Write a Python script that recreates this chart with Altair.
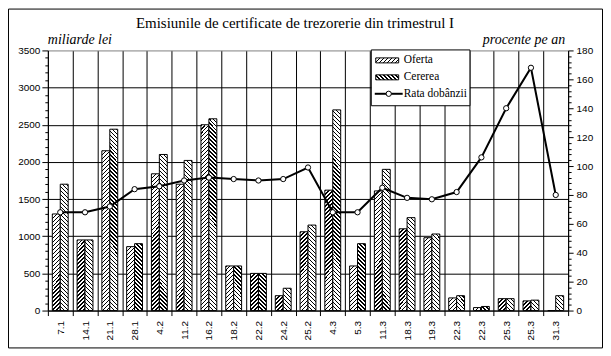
import math
import altair as alt

# ---------------- data ----------------
dates = ["7.1", "14.1", "21.1", "28.1", "4.2", "11.2", "16.2", "18.2", "22.2", "24.2",
         "25.2", "4.3", "5.3", "11.3", "18.3", "19.3", "22.3", "22.3", "25.3", "25.3", "31.3"]
oferta = [1300, 950, 2150, 860, 1840, 1700, 2500, 600, 500, 200,
          1060, 1620, 600, 1610, 1100, 980, 170, 40, 160, 130, 0]
cererea = [1700, 950, 2440, 900, 2100, 2020, 2580, 600, 500, 300,
           1150, 2700, 900, 1900, 1250, 1030, 200, 55, 160, 140, 200]
rata = [68, 68, 72, 84, 86, 90, 92, 91, 90, 91,
        99, 68, 68, 85, 78, 77, 82, 106, 140, 168, 80]

series_names = ["Oferta", "Cererea", "Rata dobânzii"]
title_text = "Emisiunile de certificate de trezorerie din trimestrul I"
left_title = "miliarde lei"
right_title = "procente pe an"

Y_MAX = 3500
R_MAX = 180
PLOT_W, PLOT_H = 522, 261
BAR_W = 8


def hatch(w, h, up, period=4.0, frac=0.33):
    """Diagonal hatch as a striped linear gradient (objectBoundingBox units)."""
    w = max(w, 0.5)
    h = max(h, 0.5)
    total = w + h
    a = total / (w * w + h * h)
    n = int(math.ceil(total / period))
    stops = []
    for k in range(n):
        b0 = round(k * period / total, 5)
        b1 = round(min((k + frac) * period / total, 1.0), 5)
        if b0 >= 1:
            break
        stops += [{"offset": b0, "color": "white"}, {"offset": b0, "color": "black"},
                  {"offset": b1, "color": "black"}, {"offset": b1, "color": "white"}]
    stops.append({"offset": 1, "color": "white"})
    if up:
        g = {"gradient": "linear", "x1": 0, "y1": 0, "x2": a * w, "y2": a * h}
    else:
        g = {"gradient": "linear", "x1": 0, "y1": 1, "x2": a * w, "y2": 1 - a * h}
    g["stops"] = stops
    return g


bar_rows = []
for i in range(len(dates)):
    for name, vals, up in ((series_names[0], oferta, True), (series_names[1], cererea, False)):
        v = vals[i]
        bar_rows.append({"idx": i, "serie": name, "val": v,
                         "grad": hatch(BAR_W, v / Y_MAX * PLOT_H, up)})
line_rows = [{"idx": i, "rata": r} for i, r in enumerate(rata)]

label_expr = "[" + ",".join("'%s'" % d for d in dates) + "][datum.value]"

SANS = "Liberation Sans"
SERIF = "Liberation Serif"

x_scale = alt.Scale(paddingInner=0, paddingOuter=0)
x_axis = alt.Axis(title=None, labelExpr=label_expr, labelAngle=270, labelAlign="right",
                  labelBaseline="middle", labelFont=SANS, labelFontSize=10, labelColor="black",
                  tickBand="extent", tickSize=5, tickColor="black", labelPadding=5,
                  domainColor="black", grid=True, gridColor="black", gridWidth=1)

y_axis = alt.Axis(
    title=None, values=list(range(0, 3501, 100)),
    labelExpr="datum.value % 500 === 0 ? format(datum.value, 'd') : ''",
    labelFont=SANS, labelFontSize=10, labelColor="black", labelPadding=2,
    tickColor="black", domainColor="black",
    tickSize={"condition": {"test": "datum.value % 500 === 0", "value": 6}, "value": 3},
    grid=True, gridWidth=1,
    gridColor={"condition": {"test": "datum.value === 3500", "value": "#808080"}, "value": "black"},
    gridOpacity={"condition": {"test": "datum.value % 500 === 0", "value": 1}, "value": 0},
)

r_axis = alt.Axis(
    title=None, orient="right", values=list(range(0, 181, 4)),
    labelExpr="datum.value % 20 === 0 ? format(datum.value, 'd') : ''",
    labelFont=SANS, labelFontSize=10, labelColor="black", labelPadding=3,
    tickColor="black", domainColor="black",
    tickSize={"condition": {"test": "datum.value % 20 === 0", "value": 5}, "value": 3},
    grid=False,
)

bars = alt.Chart(alt.Data(values=bar_rows)).mark_bar(stroke="black", strokeWidth=1).encode(
    x=alt.X("idx:O", scale=x_scale, axis=x_axis),
    xOffset=alt.XOffset("serie:N", sort=series_names[:2],
                        scale=alt.Scale(paddingInner=0, paddingOuter=0.5625)),
    y=alt.Y("val:Q", scale=alt.Scale(domain=[0, Y_MAX]), axis=y_axis),
    fill=alt.Fill(field="grad", type="nominal", scale=None, legend=None),
)

line = alt.Chart(alt.Data(values=line_rows)).mark_line(
    color="black", strokeWidth=2,
    point=alt.OverlayMarkDef(filled=True, fill="white", stroke="black", strokeWidth=1, size=28),
).encode(
    x=alt.X("idx:O", scale=x_scale, axis=x_axis),
    y=alt.Y("rata:Q", scale=alt.Scale(domain=[0, R_MAX]), axis=r_axis),
)

one = alt.Data(values=[{}])


def text_layer(txt, x, y, **kw):
    return alt.Chart(alt.Data(values=[{"t": txt}])).mark_text(**kw).encode(
        text="t:N", x=alt.value(x), y=alt.value(y))


title = text_layer(title_text, 248, -28, font=SERIF, fontSize=15, color="black",
                   align="center", baseline="middle")
lt = text_layer(left_title, 0, -10, font=SERIF, fontSize=14, fontStyle="italic",
                color="black", align="left", baseline="middle")
rt = text_layer(right_title, 519, -10, font=SERIF, fontSize=14, fontStyle="italic",
                color="black", align="right", baseline="middle")

# legend
LX0, LX1 = 324.5, 423.5
leg_box = alt.Chart(one).mark_rect(fill="white", stroke="black", strokeWidth=1).encode(
    x=alt.value(LX0), x2=alt.value(LX1), y=alt.value(-0.5), y2=alt.value(55.5))


def swatch(yc, up):
    return alt.Chart(alt.Data(values=[{"grad": hatch(23, 5, up)}])).mark_rect(
        stroke="black", strokeWidth=1).encode(
        x=alt.value(329), x2=alt.value(352), y=alt.value(yc - 2.5), y2=alt.value(yc + 2.5),
        fill=alt.Fill(field="grad", type="nominal", scale=None, legend=None))


sw1 = swatch(10, True)
sw2 = swatch(27, False)
leg_line = alt.Chart(one).mark_rule(color="black", strokeWidth=2).encode(
    x=alt.value(328), x2=alt.value(356), y=alt.value(43.5))
leg_pt = alt.Chart(one).mark_point(shape="circle", filled=True, fill="white", stroke="black",
                                   strokeWidth=1, size=28, opacity=1).encode(
    x=alt.value(342), y=alt.value(43.5))
lab_kw = dict(font=SERIF, fontSize=11.5, color="black", align="left", baseline="middle")
lt1 = text_layer(series_names[0], 357, 10, **lab_kw)
lt2 = text_layer(series_names[1], 357, 27, **lab_kw)
lt3 = text_layer(series_names[2], 357, 43.5, **lab_kw)

border = alt.Chart(one).mark_rect(fillOpacity=0, stroke="black", strokeWidth=1).encode(
    x=alt.value(-39.5), x2=alt.value(556.5), y=alt.value(-41.5), y2=alt.value(298.5))

chart = alt.layer(
    bars, line, title, lt, rt, leg_box, sw1, sw2, leg_line, leg_pt, lt1, lt2, lt3, border
).resolve_scale(y="independent").properties(
    width=PLOT_W, height=PLOT_H,
    autosize=alt.AutoSizeParams(type="none"),
    padding={"left": 40, "top": 42, "right": 35, "bottom": 38},
    background="white",
).configure_view(stroke=None)

chart.save("out.html", embed_options={"renderer": "svg", "actions": False})
